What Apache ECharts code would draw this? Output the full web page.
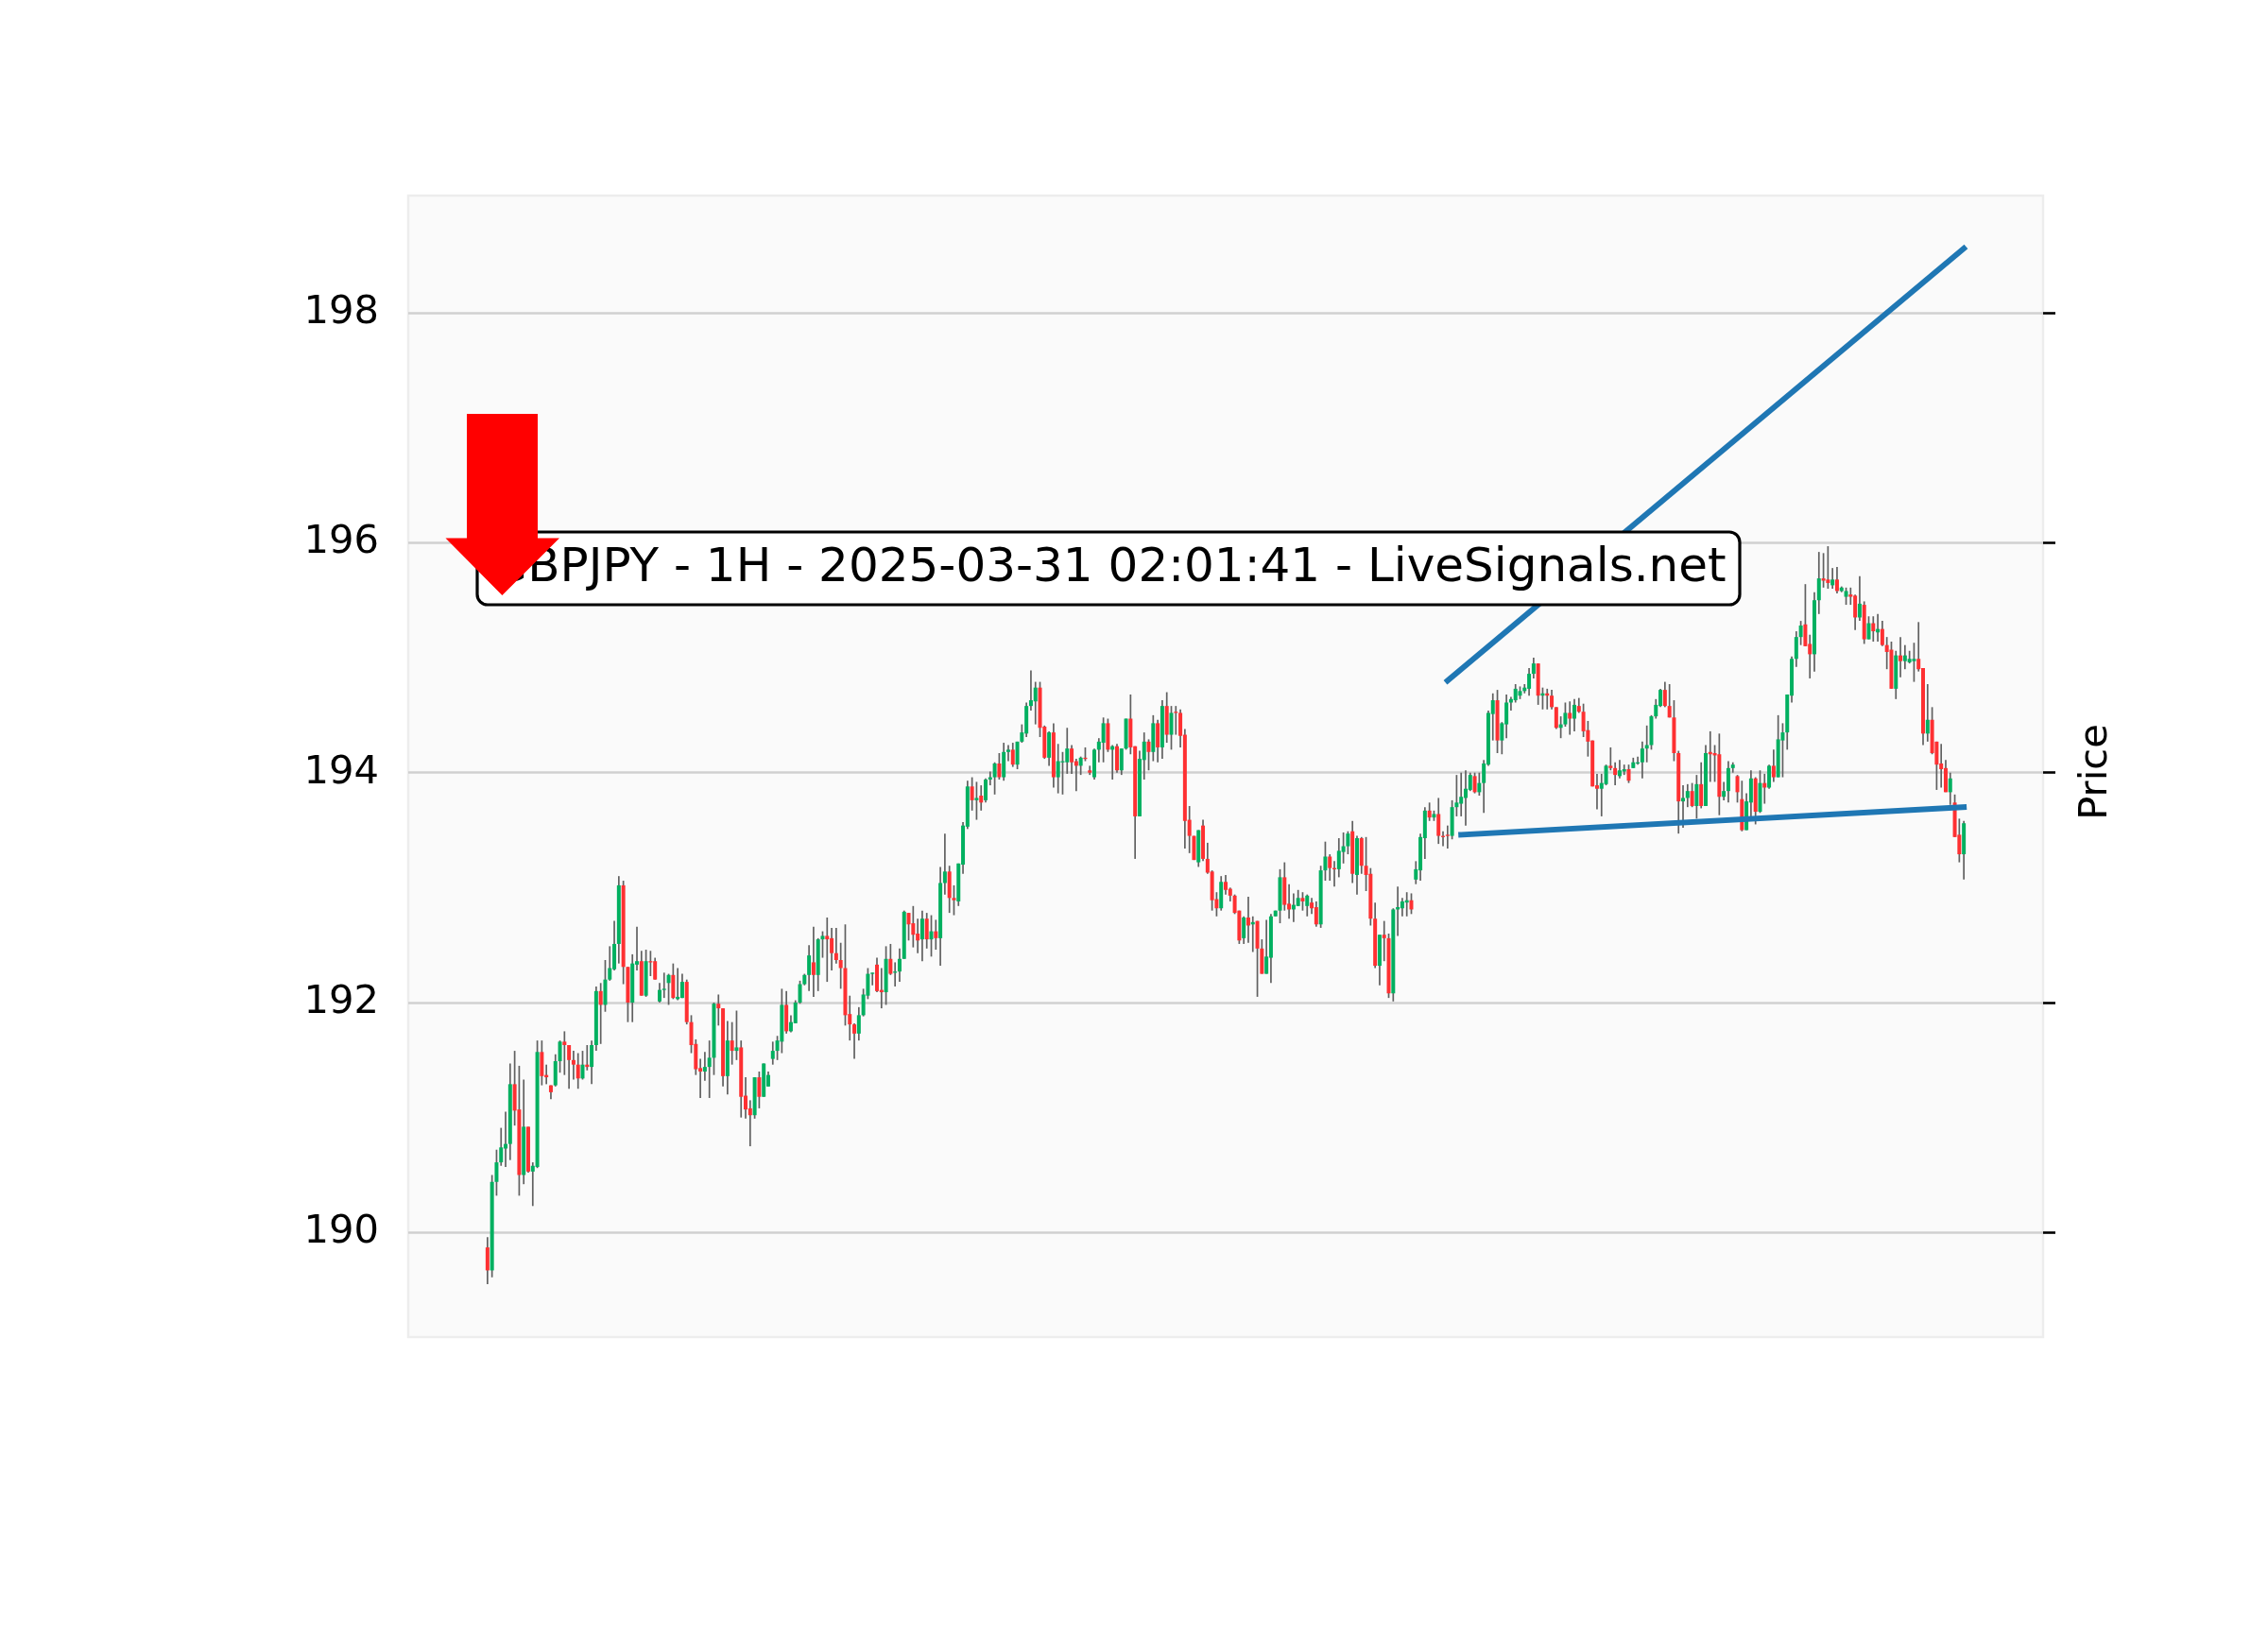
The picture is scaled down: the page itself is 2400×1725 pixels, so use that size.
<!DOCTYPE html>
<html>
<head>
<meta charset="utf-8">
<style>
  html, body { margin: 0; padding: 0; background: #ffffff; }
  #chart { width: 2400px; height: 1725px; }
</style>
<script src="https://cdn.jsdelivr.net/npm/echarts@6.0.0/dist/echarts.min.js"></script>
</head>
<body>
<div id="chart"></div>
<script>
// ---- data (GBPJPY 1H candles, in order) ----
const opens = [
189.87,189.67,190.44,190.61,190.73,190.77,191.29,191.07,190.50,190.92,
190.53,190.57,191.57,191.37,191.28,191.28,191.49,191.66,191.63,191.50,
191.46,191.34,191.46,191.44,191.63,192.10,191.98,192.20,192.29,192.51,
193.02,192.31,192.00,192.33,192.36,192.06,192.36,192.36,192.01,192.11,
192.17,192.24,192.03,192.04,192.18,191.83,191.64,191.43,191.40,191.44,
191.52,191.99,191.95,191.36,191.67,191.58,191.61,191.19,191.08,191.02,
191.35,191.18,191.27,191.51,191.58,191.66,191.98,191.75,191.82,192.00,
192.16,192.24,192.35,192.24,192.55,192.58,192.56,192.43,192.37,192.30,
191.90,191.81,191.73,191.89,192.06,192.25,192.33,192.11,192.09,192.38,
192.26,192.27,192.38,192.78,192.69,192.60,192.55,192.73,192.55,192.62,
192.56,193.04,193.14,192.91,192.88,193.20,193.53,193.88,193.76,193.80,
193.76,193.94,193.96,194.08,193.96,194.18,194.20,194.07,194.27,194.34,
194.58,194.62,194.74,194.40,194.13,194.35,193.96,194.10,194.09,194.21,
194.10,194.06,194.13,194.02,193.96,194.20,194.26,194.43,194.20,194.23,
194.02,194.21,194.47,194.23,193.62,194.11,194.27,194.18,194.43,194.22,
194.58,194.33,194.53,194.52,194.33,193.59,193.45,193.22,193.54,193.25,
193.14,192.90,192.82,193.05,192.99,192.93,192.80,192.56,192.74,192.68,
192.71,192.47,192.25,192.39,192.75,192.80,193.09,192.86,192.81,192.84,
192.91,192.84,192.87,192.83,192.68,193.15,193.27,193.17,193.16,193.31,
193.36,193.49,193.11,193.43,193.19,193.12,192.73,192.32,192.59,192.56,
192.08,192.81,192.82,192.87,192.89,193.07,193.15,193.43,193.67,193.61,
193.64,193.45,193.46,193.45,193.70,193.73,193.78,193.85,193.97,193.83,
193.91,194.07,194.51,194.63,194.28,194.42,194.61,194.63,194.67,194.71,
194.73,194.86,194.95,194.67,194.69,194.67,194.57,194.39,194.42,194.52,
194.47,194.58,194.53,194.37,194.28,193.89,193.86,193.90,194.06,194.04,
193.97,194.01,194.03,194.04,194.08,194.09,194.21,194.24,194.49,194.58,
194.72,194.58,194.48,194.17,193.75,193.78,193.84,193.71,193.90,193.71,
194.18,194.17,194.16,193.79,193.84,194.04,193.97,193.77,193.50,193.74,
193.95,193.66,193.91,193.87,194.06,193.96,194.28,194.35,194.67,194.99,
195.18,195.29,195.12,195.03,195.50,195.69,195.68,195.63,195.68,195.58,
195.53,195.55,195.54,195.35,195.46,195.16,195.30,195.22,195.25,195.11,
195.07,194.73,195.02,194.97,194.96,194.97,194.99,194.91,194.34,194.46,
194.27,194.08,194.04,193.83,193.74,193.46,193.29
];
const highs = [
189.96,190.50,190.72,190.91,191.05,191.47,191.58,191.45,191.33,190.92,
190.61,191.67,191.67,191.46,191.28,191.55,191.67,191.75,191.63,191.58,
191.56,191.58,191.63,191.67,192.14,192.17,192.37,192.49,192.71,193.10,
193.06,192.31,192.42,192.66,192.45,192.46,192.45,192.39,192.17,192.26,
192.25,192.34,192.30,192.25,192.20,191.89,191.68,191.51,191.57,191.67,
192.00,192.07,191.95,191.84,191.83,191.93,191.67,191.35,191.15,191.35,
191.40,191.47,191.40,191.66,191.71,192.12,192.10,191.89,192.02,192.19,
192.25,192.50,192.66,192.56,192.62,192.74,192.65,192.65,192.52,192.68,
192.06,191.82,191.96,192.12,192.30,192.26,192.39,192.30,192.49,192.51,
192.35,192.47,192.80,192.78,192.84,192.73,192.80,192.78,192.76,192.72,
193.18,193.47,193.19,193.02,193.21,193.57,193.93,193.96,193.92,193.89,
193.95,194.01,194.09,194.17,194.26,194.24,194.26,194.27,194.42,194.61,
194.89,194.79,194.79,194.41,194.36,194.43,194.25,194.18,194.39,194.24,
194.12,194.14,194.22,194.06,194.21,194.30,194.48,194.47,194.24,194.25,
194.21,194.47,194.68,194.23,194.19,194.35,194.29,194.50,194.46,194.63,
194.70,194.58,194.58,194.55,194.38,193.71,193.45,193.50,193.59,193.39,
193.15,192.96,193.10,193.11,193.00,192.94,192.80,192.75,192.92,192.75,
192.71,192.55,192.72,192.77,192.80,193.16,193.22,193.03,192.95,192.98,
192.96,192.94,192.91,192.88,193.19,193.40,193.29,193.23,193.43,193.48,
193.49,193.58,193.45,193.44,193.44,193.17,192.87,192.59,192.71,192.60,
192.82,193.01,192.91,192.96,192.95,193.23,193.47,193.70,193.74,193.67,
193.78,193.49,193.54,193.76,193.98,194.00,194.02,194.00,194.00,194.00,
194.11,194.54,194.69,194.72,194.44,194.68,194.66,194.77,194.75,194.77,
194.91,195.00,194.95,194.74,194.73,194.72,194.57,194.49,194.61,194.62,
194.64,194.65,194.60,194.45,194.28,193.99,193.99,194.07,194.22,194.09,
194.11,194.07,194.07,194.13,194.14,194.27,194.41,194.50,194.64,194.73,
194.79,194.77,194.63,194.19,193.89,193.90,193.91,193.98,194.09,194.24,
194.36,194.24,194.34,193.92,194.10,194.09,193.98,193.93,193.82,194.02,
193.96,194.02,193.99,194.07,194.20,194.50,194.43,194.68,195.01,195.23,
195.32,195.64,195.20,195.57,195.92,195.91,195.97,195.78,195.79,195.62,
195.61,195.61,195.55,195.71,195.49,195.36,195.36,195.38,195.32,195.18,
195.14,195.06,195.18,195.11,195.06,195.13,195.31,194.91,194.77,194.57,
194.27,194.25,194.11,194.00,193.81,193.60,193.58
];
const lows = [
189.55,189.61,190.32,190.58,190.57,190.63,190.93,190.32,190.42,190.52,
190.23,190.56,191.28,191.29,191.16,191.27,191.39,191.37,191.25,191.33,
191.25,191.33,191.41,191.29,191.58,191.64,191.92,192.19,192.28,192.34,
192.16,191.83,191.83,192.28,192.06,192.05,192.23,192.20,192.00,192.04,
191.98,192.03,192.02,192.04,191.81,191.56,191.37,191.17,191.32,191.17,
191.37,191.80,191.27,191.20,191.46,191.50,191.00,190.99,190.75,190.99,
191.08,191.18,191.27,191.46,191.50,191.56,191.73,191.74,191.82,191.99,
192.15,192.10,192.05,192.10,192.39,192.18,192.28,192.34,192.12,191.80,
191.67,191.51,191.67,191.88,192.03,192.15,192.09,191.95,191.98,192.24,
192.14,192.18,192.38,192.54,192.48,192.43,192.36,192.47,192.40,192.46,
192.32,192.94,192.78,192.76,192.84,193.12,193.51,193.67,193.59,193.67,
193.74,193.89,193.81,193.94,193.93,194.10,194.05,194.03,194.26,194.31,
194.54,194.42,194.31,194.12,194.06,193.87,193.82,193.81,193.99,193.99,
193.84,193.98,194.10,193.98,193.94,194.09,194.09,194.18,193.94,194.00,
193.98,194.20,194.16,193.25,193.62,193.94,194.02,194.10,194.09,194.12,
194.26,194.20,194.33,194.22,193.34,193.30,193.24,193.18,193.23,193.12,
192.80,192.75,192.80,192.94,192.88,192.77,192.51,192.51,192.52,192.44,
192.05,192.25,192.25,192.17,192.75,192.69,192.80,192.73,192.70,192.84,
192.80,192.75,192.77,192.66,192.65,193.06,193.06,193.01,193.09,193.21,
193.29,193.04,192.94,193.12,192.97,192.67,192.30,192.15,192.36,192.04,
192.01,192.58,192.75,192.75,192.77,193.03,193.06,193.25,193.58,193.58,
193.38,193.36,193.34,193.42,193.62,193.62,193.54,193.84,193.82,193.80,
193.65,194.06,194.28,194.17,194.16,194.30,194.54,194.61,194.64,194.69,
194.67,194.82,194.59,194.55,194.55,194.55,194.38,194.30,194.40,194.33,
194.36,194.52,194.31,194.14,193.88,193.68,193.62,193.89,194.02,193.89,
193.95,193.98,193.91,194.04,194.07,193.95,194.09,194.20,194.47,194.57,
194.57,194.48,194.10,193.47,193.52,193.70,193.70,193.60,193.69,193.71,
193.92,193.92,193.63,193.76,193.74,194.00,193.74,193.49,193.50,193.58,
193.55,193.65,193.73,193.86,193.92,193.96,193.96,194.20,194.61,194.92,
195.11,195.10,194.82,194.88,195.38,195.61,195.60,195.60,195.56,195.57,
195.46,195.46,195.24,195.32,195.12,195.16,195.14,195.14,195.10,194.90,
194.73,194.64,194.83,194.90,194.95,194.79,194.88,194.24,194.27,194.16,
193.85,193.87,193.83,193.72,193.44,193.22,193.07
];
const closes = [
189.67,190.44,190.61,190.74,190.77,191.29,191.06,190.50,190.92,190.53,
190.58,191.57,191.36,191.35,191.22,191.49,191.66,191.63,191.50,191.46,
191.34,191.46,191.44,191.63,192.10,191.98,192.20,192.30,192.51,193.02,
192.31,192.00,192.34,192.36,192.06,192.36,192.35,192.20,192.11,192.12,
192.24,192.04,192.05,192.18,191.83,191.63,191.42,191.40,191.44,191.52,
191.99,191.95,191.36,191.67,191.58,191.61,191.18,191.07,191.02,191.35,
191.18,191.47,191.37,191.58,191.67,191.98,191.75,191.83,192.00,192.16,
192.24,192.41,192.24,192.55,192.58,192.55,192.43,192.37,192.30,191.89,
191.81,191.73,191.89,192.07,192.25,192.26,192.10,192.09,192.38,192.25,
192.27,192.38,192.79,192.68,192.59,192.54,192.73,192.55,192.62,192.56,
193.04,193.14,192.91,192.89,193.21,193.54,193.88,193.76,193.78,193.74,
193.94,193.96,194.08,193.96,194.18,194.20,194.07,194.27,194.35,194.58,
194.63,194.74,194.39,194.13,194.35,193.96,194.10,194.10,194.21,194.09,
194.06,194.13,194.12,194.00,194.20,194.27,194.43,194.20,194.23,194.02,
194.21,194.47,194.22,193.62,194.12,194.27,194.18,194.43,194.22,194.58,
194.33,194.52,194.52,194.32,193.58,193.45,193.24,193.50,193.25,193.13,
192.89,192.82,193.05,192.98,192.93,192.78,192.54,192.74,192.67,192.70,
192.47,192.25,192.40,192.75,192.80,193.09,192.85,192.81,192.85,192.91,
192.88,192.93,192.82,192.68,193.15,193.27,193.17,193.16,193.32,193.36,
193.47,193.12,193.43,193.19,193.11,192.73,192.32,192.59,192.56,192.08,
192.81,192.83,192.88,192.89,192.81,193.16,193.44,193.67,193.61,193.64,
193.45,193.44,193.45,193.70,193.74,193.79,193.86,193.98,193.83,193.91,
194.08,194.52,194.63,194.28,194.43,194.61,194.64,194.73,194.71,194.74,
194.86,194.95,194.67,194.69,194.67,194.57,194.39,194.42,194.52,194.47,
194.59,194.53,194.36,194.27,193.88,193.86,193.91,194.06,194.04,193.98,
194.02,194.03,193.93,194.09,194.09,194.21,194.24,194.49,194.59,194.72,
194.58,194.48,194.17,193.75,193.78,193.84,193.71,193.90,193.71,194.17,
194.16,194.15,193.79,193.84,194.04,194.07,193.83,193.50,193.75,193.95,
193.66,193.91,193.87,194.06,193.96,194.29,194.35,194.68,194.99,195.18,
195.28,195.10,195.03,195.50,195.69,195.67,195.65,195.68,195.58,195.61,
195.58,195.53,195.35,195.47,195.16,195.30,195.23,195.25,195.11,195.05,
194.73,195.02,194.97,195.02,194.99,194.99,194.90,194.34,194.46,194.17,
194.07,194.03,193.83,193.95,193.44,193.29,193.56
];
// trend lines: [candle index, price]
const trendUpper = [[212, 194.80], [326, 198.56]];
const trendLower = [[215, 193.46], [326, 193.70]];
// y-axis tick labels
const yTicks = [190, 192, 194, 196, 198];
const titleText = 'GBPJPY - 1H - 2025-03-31 02:01:41 - LiveSignals.net';

// ---- build chart ----
const UP = '#00b060', DOWN = '#fe3032', WICK = '#606060';
const candleData = opens.map((o, i) => [i, o, highs[i], lows[i], closes[i]]);

const chart = echarts.init(document.getElementById('chart'), null, { renderer: 'canvas' });

const FONT = "'DejaVu Sans', sans-serif";

const option = {
  animation: false,
  backgroundColor: '#ffffff',
  grid: {
    left: 432, top: 207, right: 238, bottom: 310,
    show: true, backgroundColor: '#fafafa', borderColor: '#ededed', borderWidth: 2.5
  },
  xAxis: {
    type: 'value', min: -17.5, max: 343.5,
    show: false, splitLine: { show: false }
  },
  yAxis: [
    {
      type: 'value', position: 'left', min: 189.09, max: 199.02,
      axisLine: { show: false },
      axisTick: { show: false, customValues: yTicks },
      axisLabel: {
        customValues: yTicks, margin: 31, fontSize: 41.67, color: '#000',
        fontFamily: FONT, padding: [6, 0, 0, 0]
      },
      splitLine: { show: true, lineStyle: { color: '#d0d0d0', width: 2.5 } }
    },
    {
      type: 'value', position: 'right', min: 189.09, max: 199.02,
      name: 'Price', nameLocation: 'middle', nameGap: 35, nameRotate: 90,
      nameTextStyle: { fontSize: 41.67, color: '#000', fontFamily: FONT, padding: [0, 12, 0, 0] },
      axisLine: { show: false },
      axisTick: { show: true, inside: false, length: 13, customValues: yTicks,
                  lineStyle: { color: '#000', width: 2.6 } },
      axisLabel: { show: false, customValues: yTicks },
      splitLine: { show: false }
    }
  ],
  series: [
    {
      type: 'custom',
      name: 'GBPJPY',
      xAxisIndex: 0, yAxisIndex: 0,
      data: candleData,
      encode: { x: 0, y: [1, 2, 3, 4] },
      renderItem: function (params, api) {
        const x = api.value(0), o = api.value(1), h = api.value(2), l = api.value(3), c = api.value(4);
        const pO = api.coord([x, o]);
        const pC = api.coord([x, c]);
        const pH = api.coord([x, h]);
        const pL = api.coord([x, l]);
        const bw = 4.0;
        const top = Math.min(pO[1], pC[1]);
        const hgt = Math.max(Math.abs(pO[1] - pC[1]), 1.3);
        return {
          type: 'group',
          children: [
            { type: 'line', shape: { x1: pH[0], y1: pH[1], x2: pL[0], y2: pL[1] },
              style: { stroke: WICK, lineWidth: 1.7 } },
            { type: 'rect', shape: { x: pO[0] - bw / 2, y: top, width: bw, height: hgt },
              style: { fill: c >= o ? UP : DOWN } }
          ]
        };
      },
      z: 2
    },
    {
      type: 'line', data: trendUpper, symbol: 'none', z: 3,
      lineStyle: { color: '#1f77b4', width: 6, cap: 'square' }
    },
    {
      type: 'line', data: trendLower, symbol: 'none', z: 3,
      lineStyle: { color: '#1f77b4', width: 6, cap: 'square' }
    }
  ],
  graphic: [
    {
      type: 'rect', z: 100,
      shape: { x: 505, y: 563, width: 1336, height: 77, r: 11 },
      style: { fill: '#ffffff', stroke: '#000000', lineWidth: 3.2 }
    },
    {
      type: 'text', z: 101,
      x: 519.5, y: 602,
      style: { text: titleText, font: "50px 'DejaVu Sans'", fill: '#000', align: 'left', verticalAlign: 'middle' }
    },
    {
      type: 'polygon', z: 102,
      shape: { points: [[494, 438], [569, 438], [569, 569.5], [592, 569.5], [531.4, 630], [471.5, 569.5], [494, 569.5]] },
      style: { fill: '#ff0000' }
    }
  ]
};
chart.setOption(option);
</script>
</body>
</html>
